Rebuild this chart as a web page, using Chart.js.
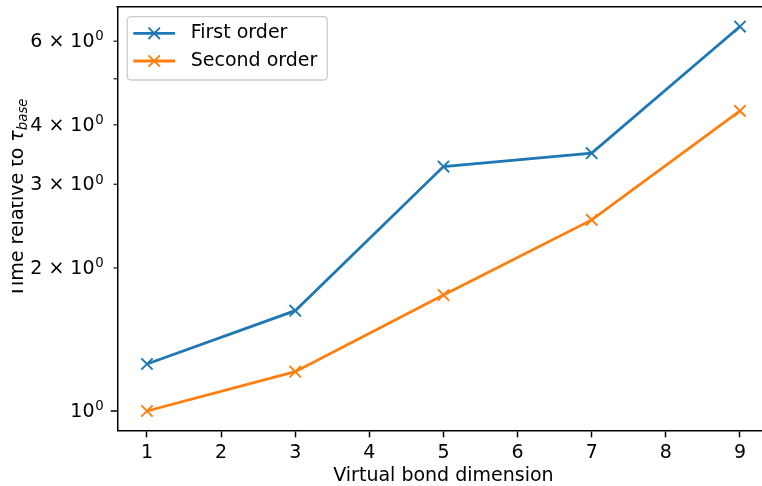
<!DOCTYPE html>
<html>
<head>
<meta charset="utf-8">
<script src="https://cdn.jsdelivr.net/npm/chart.js@4"></script>
<style>
  html, body { margin: 0; padding: 0; background: #fff; }
  #frame { position: relative; width: 762px; height: 486px; overflow: hidden; }
  canvas { display: block; }
</style>
</head>
<body>
<div id="frame"><canvas id="c" width="772" height="486"></canvas></div>
<script>
// Timing of first- and second-order schemes vs. virtual bond dimension
const bondDims = [1, 3, 5, 7, 9];
const firstOrder = [1.256, 1.626, 3.268, 3.487, 6.44];
const secondOrder = [1.0, 1.21, 1.754, 2.524, 4.28];
const seriesNames = ['First order', 'Second order'];
const seriesColors = ['#1f77b4', '#ff7f0e'];

const xTicks = [1, 2, 3, 4, 5, 6, 7, 8, 9];
const yTicks = [1, 2, 3, 4, 5, 6];
const yMajor = [1];
// y tick labels: mantissa part and exponent (drawn as superscript)
const yTickBase = ['10', '2 × 10', '3 × 10', '4 × 10', '', '6 × 10'];
const yTickExp = ['0', '0', '0', '0', '', '0'];
const xTitle = 'Virtual bond dimension';
const yTitleMain = 'Time relative to ';
const yTitleSymbol = 'τ';
const yTitleSub = 'base';

const FONT = "'DejaVu Sans'";
const FS = 19;
Chart.defaults.font.family = FONT;
Chart.defaults.font.size = FS;
Chart.defaults.color = '#000';

const makeSeries = (i, values) => ({
  label: seriesNames[i],
  data: bondDims.map((x, k) => ({ x, y: values[k] })),
  borderColor: seriesColors[i],
  backgroundColor: seriesColors[i],
  borderWidth: 2.8,
  tension: 0,
  pointStyle: 'crossRot',
  pointRadius: 8,
  pointHoverRadius: 8,
  pointBorderWidth: 1.9,
  pointBorderColor: seriesColors[i],
  pointBackgroundColor: seriesColors[i]
});

// spines, y ticks with superscript labels, rotated axis title and framed legend
const decorations = {
  id: 'decorations',
  afterDraw(chart) {
    const ctx = chart.ctx;
    const a = chart.chartArea;
    const ys = chart.scales.y;

    ctx.save();
    ctx.strokeStyle = '#000';
    ctx.lineWidth = 1.5;
    ctx.beginPath();
    ctx.moveTo(a.left - 0.75, a.top);
    ctx.lineTo(a.right, a.top);
    ctx.lineTo(a.right, a.bottom);
    ctx.stroke();

    // major and minor log ticks with labels
    ctx.fillStyle = '#000';
    ctx.textBaseline = 'alphabetic';
    ctx.textAlign = 'right';
    yTicks.forEach((v, k) => {
      const major = yMajor.includes(v);
      const py = ys.getPixelForValue(v);
      ctx.lineWidth = major ? 1.5 : 1.1;
      ctx.beginPath();
      ctx.moveTo(a.left - (major ? 6.6 : 3.8), py);
      ctx.lineTo(a.left, py);
      ctx.stroke();
      if (!yTickBase[k]) return;
      const right = a.left - 13.7;
      const base = py + 5.9;
      ctx.font = (FS * 0.7) + 'px ' + FONT;
      ctx.fillText(yTickExp[k], right, base - 6.6);
      const ew = ctx.measureText(yTickExp[k]).width;
      ctx.font = FS + 'px ' + FONT;
      ctx.fillText(yTickBase[k], right - ew - 0.6, base);
    });
    ctx.restore();

    // y-axis title with italic subscript
    ctx.save();
    ctx.beginPath();
    ctx.rect(12, 0, 200, 486);
    ctx.clip();
    ctx.translate(22.7, 297);
    ctx.rotate(-Math.PI / 2);
    ctx.fillStyle = '#000';
    ctx.textAlign = 'left';
    ctx.textBaseline = 'alphabetic';
    ctx.font = FS + 'px ' + FONT;
    ctx.fillText(yTitleMain, 0, 0);
    let w = ctx.measureText(yTitleMain).width;
    ctx.font = 'italic ' + FS + 'px ' + FONT;
    ctx.fillText(yTitleSymbol, w, 0);
    w += ctx.measureText(yTitleSymbol).width;
    ctx.font = 'italic ' + (FS * 0.7) + 'px ' + FONT;
    ctx.fillText(yTitleSub, w, 3.8);
    ctx.restore();

    // legend
    ctx.save();
    const bx = 127.3, by = 16.7, bw = 200, bh = 63.3, r = 4;
    ctx.beginPath();
    ctx.moveTo(bx + r, by);
    ctx.lineTo(bx + bw - r, by);
    ctx.quadraticCurveTo(bx + bw, by, bx + bw, by + r);
    ctx.lineTo(bx + bw, by + bh - r);
    ctx.quadraticCurveTo(bx + bw, by + bh, bx + bw - r, by + bh);
    ctx.lineTo(bx + r, by + bh);
    ctx.quadraticCurveTo(bx, by + bh, bx, by + bh - r);
    ctx.lineTo(bx, by + r);
    ctx.quadraticCurveTo(bx, by, bx + r, by);
    ctx.closePath();
    ctx.fillStyle = 'rgba(255,255,255,0.8)';
    ctx.fill();
    ctx.strokeStyle = '#cccccc';
    ctx.lineWidth = 1.3;
    ctx.stroke();

    const rows = [33.3, 61];
    chart.data.datasets.forEach((ds, i) => {
      const ly = rows[i];
      ctx.strokeStyle = ds.borderColor;
      ctx.lineWidth = 2.8;
      ctx.beginPath();
      ctx.moveTo(133.3, ly);
      ctx.lineTo(175, ly);
      ctx.stroke();
      const cx = 154.2, h = 5.7;
      ctx.lineWidth = 1.9;
      ctx.beginPath();
      ctx.moveTo(cx - h, ly - h); ctx.lineTo(cx + h, ly + h);
      ctx.moveTo(cx - h, ly + h); ctx.lineTo(cx + h, ly - h);
      ctx.stroke();
      ctx.fillStyle = '#000';
      ctx.font = FS + 'px ' + FONT;
      ctx.textAlign = 'left';
      ctx.textBaseline = 'middle';
      ctx.fillText(ds.label, 190.7, ly);
    });
    ctx.restore();
  }
};

new Chart(document.getElementById('c'), {
  type: 'line',
  data: {
    datasets: [makeSeries(0, firstOrder), makeSeries(1, secondOrder)]
  },
  options: {
    responsive: false,
    animation: false,
    devicePixelRatio: 1,
    layout: { autoPadding: false, padding: { top: 6.7, right: 2.4, left: 0, bottom: 0 } },
    plugins: { legend: { display: false }, tooltip: { enabled: false } },
    scales: {
      x: {
        type: 'linear',
        min: 0.6,
        max: 9.4,
        afterBuildTicks: s => { s.ticks = xTicks.map(v => ({ value: v })); },
        afterFit: s => { s.height = 55.3; },
        ticks: {
          autoSkip: false,
          maxRotation: 0,
          padding: 6.2,
          color: '#000',
          font: { size: FS, lineHeight: 1 },
          callback: v => String(v)
        },
        grid: {
          drawOnChartArea: false,
          tickLength: 6.6,
          tickWidth: 1.5,
          tickColor: '#000'
        },
        border: { display: true, color: '#000', width: 1.5 },
        title: {
          display: true,
          text: xTitle,
          color: '#000',
          font: { size: FS, lineHeight: 1 },
          padding: 0
        }
      },
      y: {
        type: 'logarithmic',
        min: 0.909,
        max: 7.09,
        afterBuildTicks: s => { s.ticks = yTicks.map(v => ({ value: v })); },
        afterFit: s => { s.width = 117.3; },
        ticks: { display: false },
        grid: {
          drawOnChartArea: false,
          drawTicks: false
        },
        border: { display: true, color: '#000', width: 1.5 }
      }
    }
  },
  plugins: [decorations]
});
</script>
</body>
</html>
